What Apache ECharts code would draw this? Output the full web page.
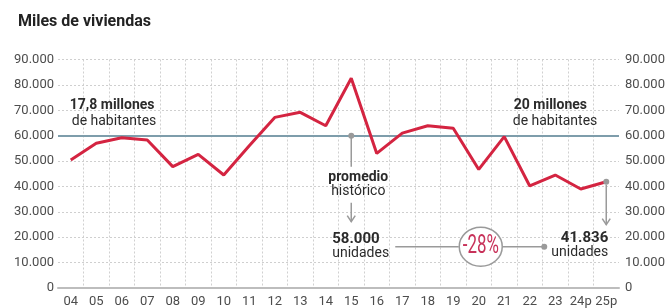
<!DOCTYPE html>
<html>
<head>
<meta charset="utf-8">
<script src="https://cdn.jsdelivr.net/npm/echarts@6/dist/echarts.min.js"></script>
<style>
  html, body { margin: 0; padding: 0; background: #fff; }
  #chart { width: 671px; height: 308px; }
</style>
</head>
<body>
<div id="chart"></div>
<script>
// años (p = previsión)
const years = ['04', '05', '06', '07', '08', '09', '10', '11', '12', '13', '14',
  '15', '16', '17', '18', '19', '20', '21', '22', '23', '24p', '25p'];
// viviendas iniciadas
const viviendas = [50400, 57000, 59200, 58300, 47800, 52600, 44500, 56000, 67200, 69200, 63900,
  82600, 53000, 61000, 63900, 62900, 46700, 59600, 40200, 44500, 39000, 41836];
// línea del promedio histórico tal y como aparece dibujada
const promedioLinea = 60000;
const yTicks = { min: 0, max: 90000, interval: 10000 };

const FONT = 'Roboto, "Open Sans", sans-serif';
const RED = '#d42441';
const AVG = '#7e9dab';
const GREY = '#9a9a9a';
const TXT = '#2b2b2b';

const fmt = (v) => String(v).replace(/\B(?=(\d{3})+(?!\d))/g, '.');

const chart = echarts.init(document.getElementById('chart'), null, { renderer: 'canvas' });

const axisLabel = { color: '#4d4d4d', fontFamily: FONT, fontSize: 13, formatter: fmt };

chart.setOption({
  animation: false,
  title: {
    text: 'Miles de viviendas',
    left: 13,
    top: 9,
    textStyle: { fontFamily: FONT, fontSize: 16, fontWeight: 'bold', color: '#222' }
  },
  grid: { left: 58, right: 52, top: 59.5, bottom: 19.5 },
  xAxis: {
    type: 'category',
    data: years,
    boundaryGap: true,
    axisLine: { lineStyle: { color: '#bdbdbd', width: 2 } },
    axisTick: { show: false },
    axisLabel: { interval: 0, margin: 7, color: '#4d4d4d', fontFamily: FONT, fontSize: 13 },
    splitLine: {
      show: true,
      interval: 0,
      showMinLine: false,
      showMaxLine: false,
      lineStyle: { color: '#d0d0d0', type: [2, 2], width: 1 }
    }
  },
  yAxis: [
    {
      type: 'value',
      ...yTicks,
      axisLine: { show: false },
      axisTick: { show: false },
      axisLabel: { ...axisLabel, margin: 4 },
      splitLine: { lineStyle: { color: '#cfcfcf', type: [2, 2], width: 1 } }
    },
    {
      type: 'value',
      ...yTicks,
      position: 'right',
      axisLine: { show: false },
      axisTick: { show: false },
      axisLabel: { ...axisLabel, margin: 6 },
      splitLine: { show: false }
    }
  ],
  series: [
    {
      type: 'line',
      data: viviendas,
      symbol: 'none',
      lineStyle: { color: RED, width: 3 },
      z: 5,
      markLine: {
        silent: true,
        symbol: 'none',
        label: { show: false },
        lineStyle: { color: AVG, width: 2, type: 'solid' },
        data: [{ yAxis: promedioLinea }]
      }
    }
  ]
});

// anotaciones colocadas a partir de coordenadas de datos
const p = (cat, val) => chart.convertToPixel({ gridIndex: 0 }, [cat, val]);

function text(x, y, str, opts) {
  return {
    type: 'text',
    z: 20,
    style: Object.assign({
      x, y, text: str,
      fill: TXT,
      font: '14px ' + FONT,
      textAlign: 'left',
      textVerticalAlign: 'middle'
    }, opts || {})
  };
}
const bold = (size) => 'bold ' + (size || 14) + 'px ' + FONT;
function line(x1, y1, x2, y2) {
  return { type: 'line', z: 15, shape: { x1, y1, x2, y2 }, style: { stroke: GREY, lineWidth: 1.5 } };
}
function dot(x, y) {
  return { type: 'circle', z: 16, shape: { cx: x, cy: y, r: 3 }, style: { fill: GREY } };
}
function arrow(x, y1, y2) {
  return [
    line(x, y1, x, y2),
    { type: 'polyline', z: 15, shape: { points: [[x - 4, y2 - 6], [x, y2], [x + 4, y2 - 6]] },
      style: { stroke: GREY, lineWidth: 1.5, fill: null } }
  ];
}

const left = p('04', promedioLinea);
const right = p('22', promedioLinea);
const avg = p('15', promedioLinea);
const last = p('25p', viviendas[viviendas.length - 1]);
const midX = p('20', 0)[0];
const endDotX = p('23', 0)[0] - 11;
const cy = avg[1] + 111;

const g = [
  text(left[0] - 1, left[1] - 30, '17,8 millones', { font: bold() }),
  text(left[0] + 1, left[1] - 14, 'de habitantes'),
  text(right[0] - 16, right[1] - 30, '20 millones', { font: bold() }),
  text(right[0] - 17, right[1] - 14, 'de habitantes'),

  dot(avg[0], avg[1]),
  line(avg[0], avg[1], avg[0], avg[1] + 31),
  text(avg[0] + 7, avg[1] + 42, 'promedio', { font: bold(), textAlign: 'center' }),
  text(avg[0] + 7, avg[1] + 56, 'histórico', { textAlign: 'center' }),
  ...arrow(avg[0], avg[1] + 67, avg[1] + 86),
  text(avg[0] - 19, avg[1] + 104, '58.000', { font: bold(15) }),
  text(avg[0] - 19, avg[1] + 118, 'unidades'),

  line(avg[0] + 44, cy, midX - 20, cy),
  { type: 'ellipse', z: 15, shape: { cx: midX + 2, cy: cy, rx: 21.5, ry: 19.5 },
    style: { stroke: GREY, lineWidth: 1.5, fill: '#fff' } },
  text(midX + 2, cy, '-28%', { font: '26px ' + FONT, fill: '#c8325a', textAlign: 'center' }),
  line(midX + 23.5, cy, endDotX, cy),
  dot(endDotX, cy),

  dot(last[0], last[1]),
  ...arrow(last[0], last[1] + 3, avg[1] + 89),
  text(last[0] + 2, avg[1] + 103, fmt(viviendas[viviendas.length - 1]), { font: bold(15), textAlign: 'right' }),
  text(last[0] + 2, avg[1] + 117, 'unidades', { textAlign: 'right' })
];

// el "-28%" es de letra estrecha: se comprime horizontalmente
const pct = g.find((e) => e.style && e.style.text === '-28%');
pct.scaleX = 0.65;
pct.originX = midX + 2;
pct.originY = cy;

chart.setOption({ graphic: { elements: g } });
</script>
</body>
</html>
